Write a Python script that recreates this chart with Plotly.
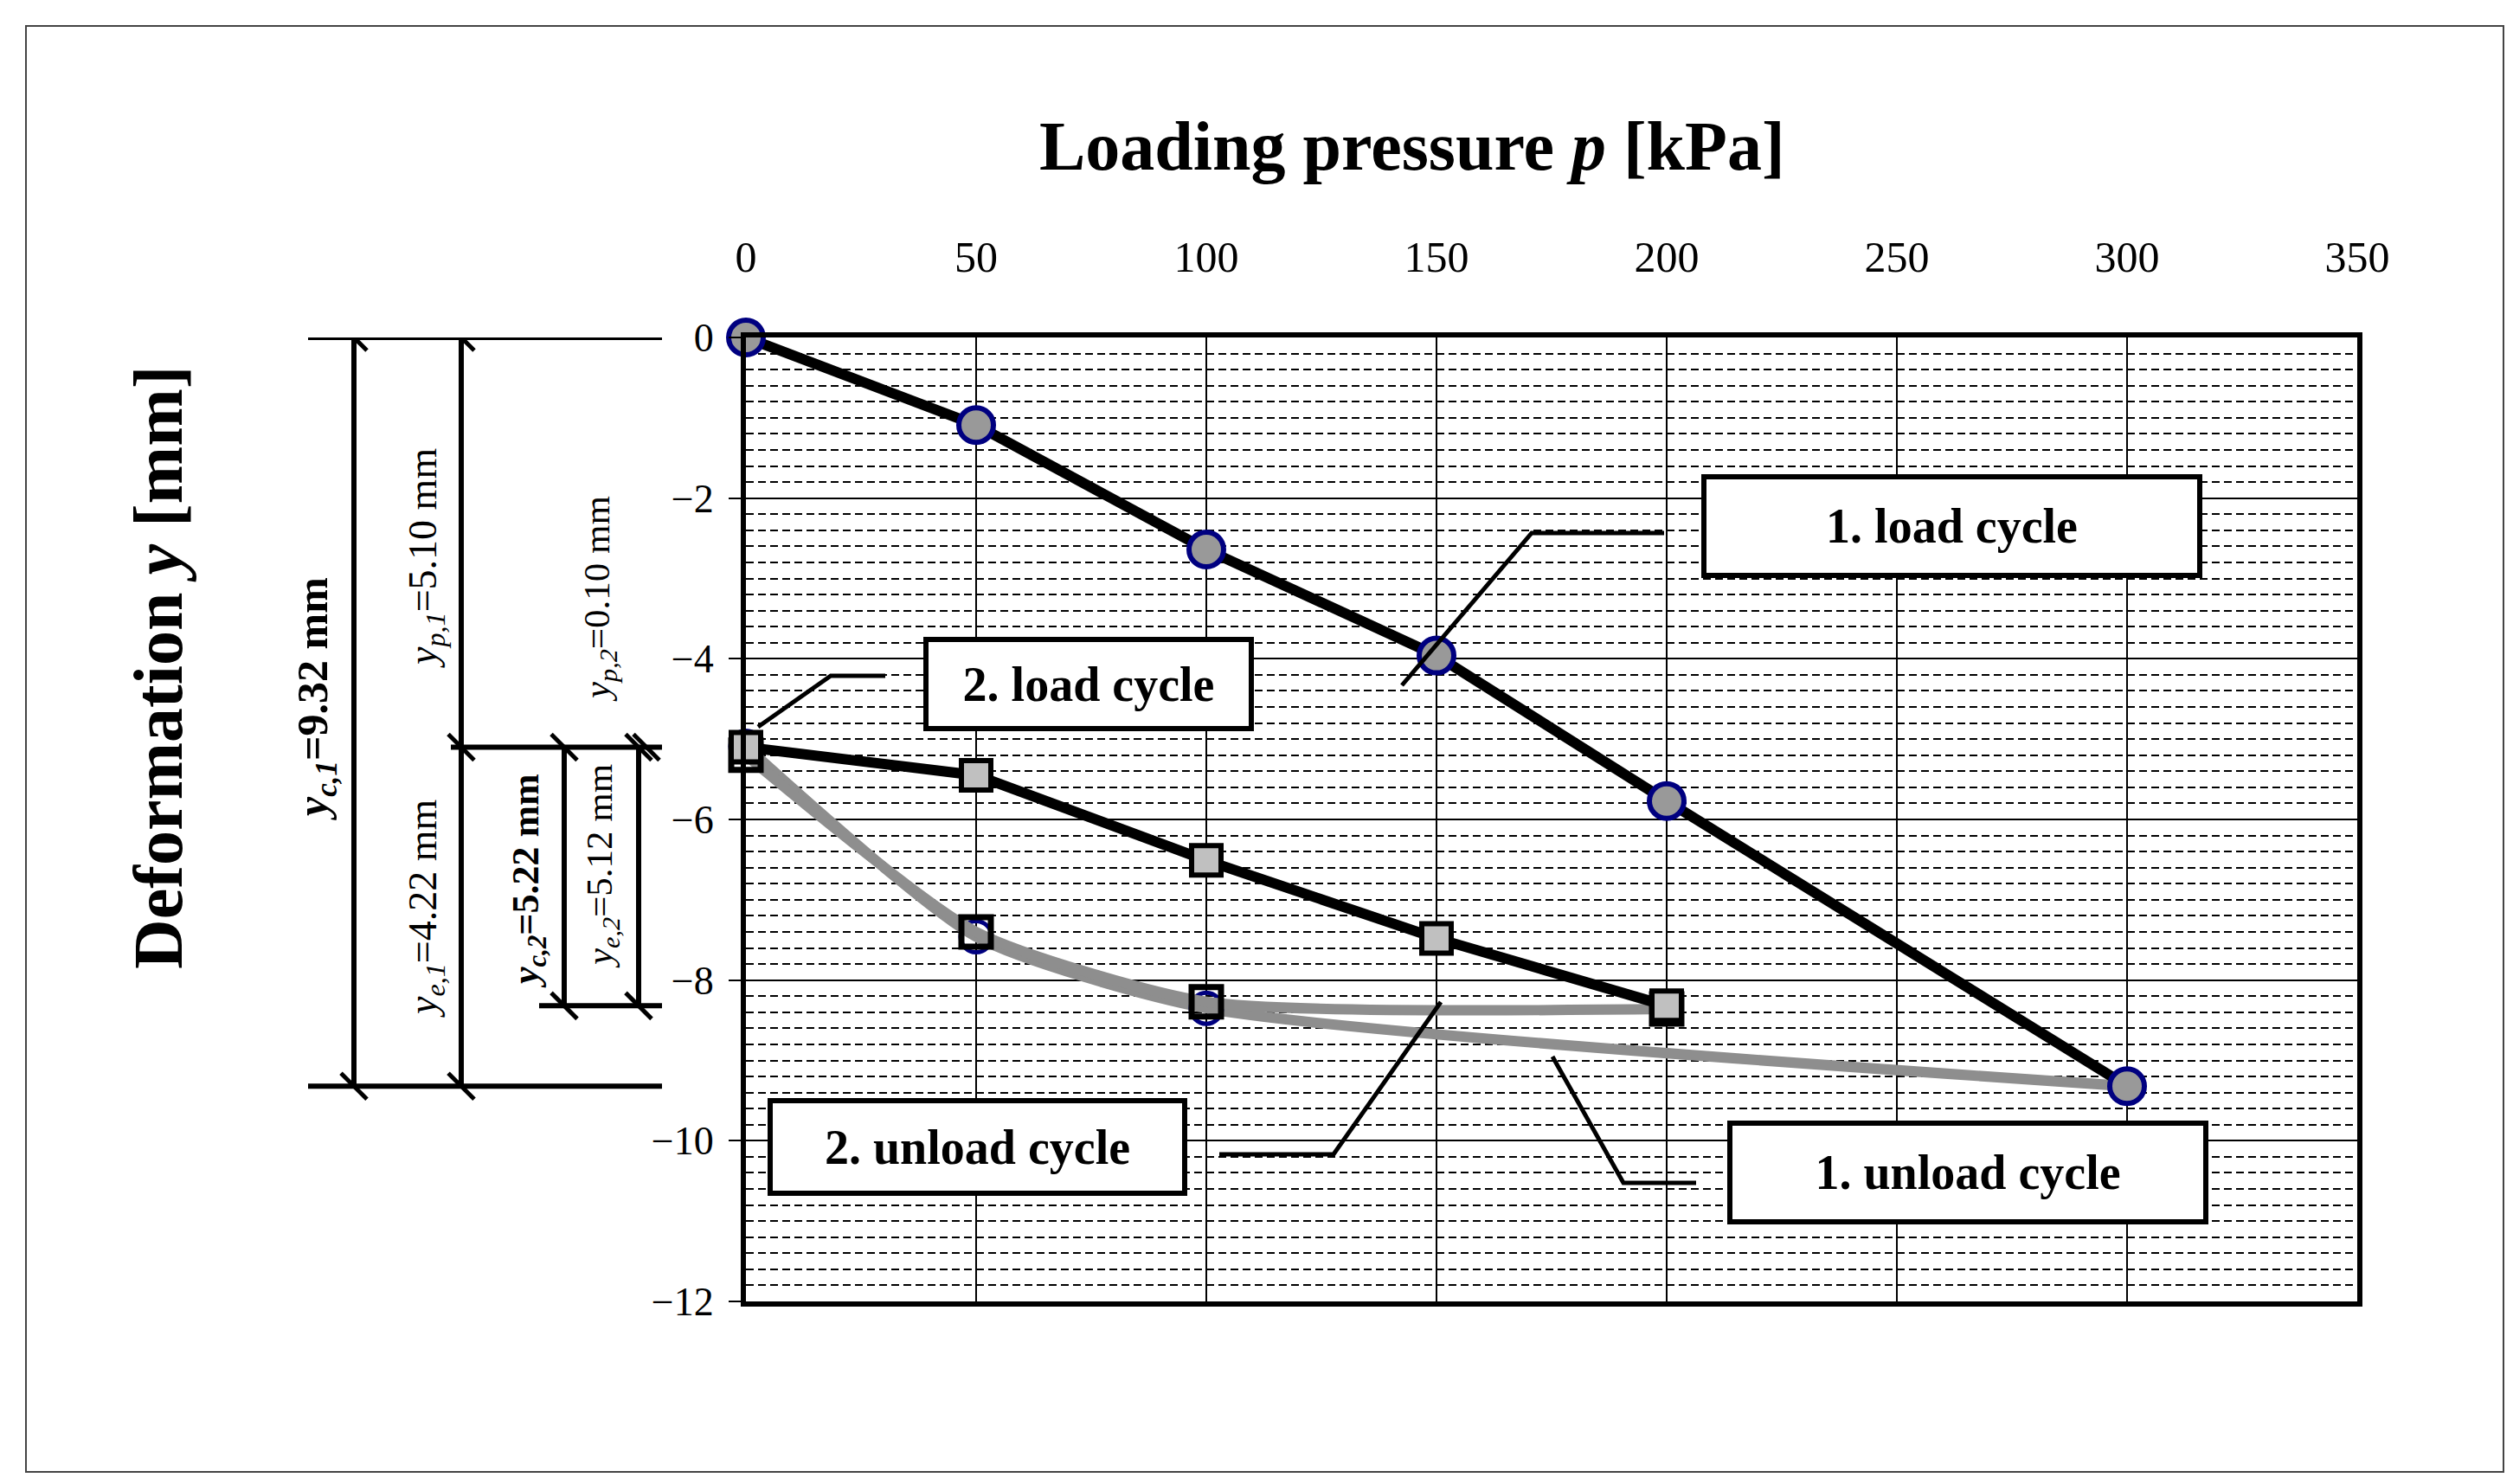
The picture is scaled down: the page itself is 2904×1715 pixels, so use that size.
import plotly.graph_objects as go

# ---------------- data ----------------
load1_p = [0, 50, 100, 150, 200, 300]
load1_y = [0.0, -1.09, -2.64, -3.96, -5.77, -9.32]

unload1_p = [300, 100, 50, 0]
unload1_y = [-9.32, -8.35, -7.46, -5.09]

load2_p = [0, 50, 100, 150, 200]
load2_y = [-5.10, -5.45, -6.51, -7.48, -8.32]

unload2_p = [200, 100, 50, 0]
unload2_y = [-8.36, -8.27, -7.40, -5.20]

x_ticks = [0, 50, 100, 150, 200, 250, 300, 350]
y_ticks = [0, -2, -4, -6, -8, -10, -12]

# dimension levels of the left-hand sketch (deformation values, mm)
lvl_top = 0.0
lvl_p1 = -5.10
lvl_c2 = -8.32
lvl_c1 = -9.32

box_labels = ["1. load cycle", "2. load cycle", "2. unload cycle", "1. unload cycle"]
dim_labels = {
    "c1": "<b><i>y<sub>c,1</sub></i>=9.32 mm</b>",
    "p1": "<i>y<sub>p,1</sub></i>=5.10 mm",
    "e1": "<i>y<sub>e,1</sub></i>=4.22 mm",
    "c2": "<b><i>y<sub>c,2</sub></i>=5.22 mm</b>",
    "p2": "<i>y<sub>p,2</sub></i>=0.10 mm",
    "e2": "<i>y<sub>e,2</sub></i>=5.12 mm",
}

# ---------------- layout geometry (pixels) ----------------
W, H = 2904, 1715
PL, PR, PT, PB = 854, 2716, 382, 1496


def px(x):
    return (x - PL) / (PR - PL)


def py(y):
    return (PB - y) / (PB - PT)


FONT = "Liberation Serif"
NAVY = "#000080"

fig = go.Figure()

fig.add_trace(go.Scatter(
    x=unload1_p, y=unload1_y, mode="lines+markers", cliponaxis=False,
    line=dict(color="#8e8e8e", width=12, shape="spline", smoothing=0.6),
    marker=dict(symbol="circle", size=36, color="rgba(0,0,0,0)",
                line=dict(color=NAVY, width=5)),
    showlegend=False))

fig.add_trace(go.Scatter(
    x=unload2_p, y=unload2_y, mode="lines+markers", cliponaxis=False,
    line=dict(color="#8e8e8e", width=12, shape="spline", smoothing=0.6),
    marker=dict(symbol="square", size=34, color="rgba(0,0,0,0)",
                line=dict(color="black", width=7)),
    showlegend=False))

fig.add_trace(go.Scatter(
    x=load2_p, y=load2_y, mode="lines+markers", cliponaxis=False,
    line=dict(color="black", width=12),
    marker=dict(symbol="square", size=34, color="#c0c0c0",
                line=dict(color="black", width=6)),
    showlegend=False))

fig.add_trace(go.Scatter(
    x=load1_p, y=load1_y, mode="lines+markers", cliponaxis=False,
    line=dict(color="black", width=12),
    marker=dict(symbol="circle", size=40, color="#999999",
                line=dict(color=NAVY, width=6)),
    showlegend=False))

shapes = []
annotations = []

# outer frame
shapes.append(dict(type="rect", xref="paper", yref="paper",
                   x0=px(22), x1=px(2885), y0=py(1693), y1=py(22),
                   line=dict(color="#444444", width=2), layer="above"))

# ---- left dimension sketch ----
def hline(x0p, x1p, lvl):
    shapes.append(dict(type="line", xref="paper", yref="y",
                       x0=px(x0p), x1=px(x1p), y0=lvl, y1=lvl,
                       line=dict(color="black", width=6), layer="above"))


def vline(xp, l0, l1):
    shapes.append(dict(type="line", xref="paper", yref="y",
                       x0=px(xp), x1=px(xp), y0=l0, y1=l1,
                       line=dict(color="black", width=6), layer="above"))


def slash(xp, lvl, dx=0):
    shapes.append(dict(type="line", xref="paper", yref="y", ysizemode="pixel",
                       yanchor=lvl, x0=px(xp - 15 + dx), x1=px(xp + 15 + dx),
                       y0=15, y1=-15,
                       line=dict(color="black", width=5), layer="above"))


hline(348, 757, lvl_top)
hline(348, 757, lvl_c1)
hline(513, 757, lvl_p1)
hline(615, 757, lvl_c2)
vline(401, lvl_top, lvl_c1)
vline(525, lvl_top, lvl_c1)
vline(644, lvl_p1, lvl_c2)
vline(730, lvl_p1, lvl_c2)
for xp, lv in [(401, lvl_top), (401, lvl_c1), (525, lvl_top), (525, lvl_p1),
               (525, lvl_c1), (644, lvl_p1), (644, lvl_c2), (730, lvl_p1),
               (730, lvl_c2)]:
    slash(xp, lv)
slash(730, lvl_p1, dx=9)

dim_pos = {"c1": (357, 800, 50, ), "p1": (484, 637, 46), "e1": (484, 1042, 46),
           "c2": (602, 1010, 44), "p2": (685, 684, 43), "e2": (688, 993, 43)}
for k, (xp, yp, fs) in dim_pos.items():
    annotations.append(dict(text=dim_labels[k], xref="paper", yref="paper",
                            x=px(xp), y=py(yp), showarrow=False, textangle=-90,
                            xanchor="center", yanchor="middle",
                            font=dict(family=FONT, size=fs, color="black")))

# ---- callout boxes ----
boxes = [  # (left, top, right, bottom)
    (1958, 540, 2537, 660),
    (1059, 728, 1441, 837),
    (879, 1261, 1364, 1374),
    (1988, 1287, 2544, 1407),
]
BW = 6
for lab, (l, t, r, b) in zip(box_labels, boxes):
    annotations.append(dict(text="<b>" + lab + "</b>", xref="paper", yref="paper",
                            x=px((l + r) / 2), y=py((t + b) / 2),
                            xanchor="center", yanchor="middle", showarrow=False,
                            width=r - l - 2 * BW, height=b - t - 2 * BW,
                            borderpad=0, bordercolor="black", borderwidth=BW,
                            bgcolor="white", valign="middle", align="center",
                            font=dict(family=FONT, size=56, color="black")))

leaders = [
    [(1915, 608), (1762, 608), (1612, 784)],
    [(1015, 773), (952, 773), (868, 832)],
    [(1401, 1326), (1533, 1326), (1657, 1150)],
    [(1952, 1359), (1868, 1359), (1786, 1213)],
]
for pts in leaders:
    path = "M " + " L ".join(f"{px(x):.5f},{py(y):.5f}" for x, y in pts)
    shapes.append(dict(type="path", xref="paper", yref="paper", path=path,
                       line=dict(color="black", width=5), layer="above"))

# ---- titles ----
annotations.append(dict(text="<b>Loading pressure <i>p</i> [kPa]</b>",
                        xref="paper", yref="paper", x=px(1624), y=py(161),
                        showarrow=False, xanchor="center", yanchor="middle",
                        font=dict(family=FONT, size=80, color="black")))
annotations.append(dict(text="<b>Deformation <i>y</i> [mm]</b>",
                        xref="paper", yref="paper", x=px(175), y=py(763),
                        showarrow=False, textangle=-90,
                        xanchor="center", yanchor="middle",
                        font=dict(family=FONT, size=80, color="black")))

fig.update_layout(
    width=W, height=H,
    margin=dict(l=PL, r=W - PR, t=PT, b=H - PB),
    paper_bgcolor="white", plot_bgcolor="white",
    font=dict(family=FONT, color="black"),
    shapes=shapes, annotations=annotations,
    xaxis=dict(range=[0, 350], side="top", tickvals=x_ticks,
               showgrid=True, gridcolor="black", gridwidth=2,
               showline=True, linecolor="black", linewidth=6, mirror=True,
               ticks="", ticklabelstandoff=50, zeroline=False,
               tickfont=dict(family=FONT, size=50, color="black")),
    yaxis=dict(range=[-12, 0], tickvals=y_ticks,
               showgrid=True, gridcolor="black", gridwidth=2,
               minor=dict(dtick=0.2, tick0=0, showgrid=True, gridcolor="black",
                          gridwidth=2, griddash="9px,5px", ticks=""),
               showline=True, linecolor="black", linewidth=6, mirror=True,
               ticks="outside", ticklen=14, tickwidth=2, tickcolor="black",
               ticklabelstandoff=8, zeroline=False,
               tickfont=dict(family=FONT, size=46, color="black")),
)

fig.write_html("out.html")
